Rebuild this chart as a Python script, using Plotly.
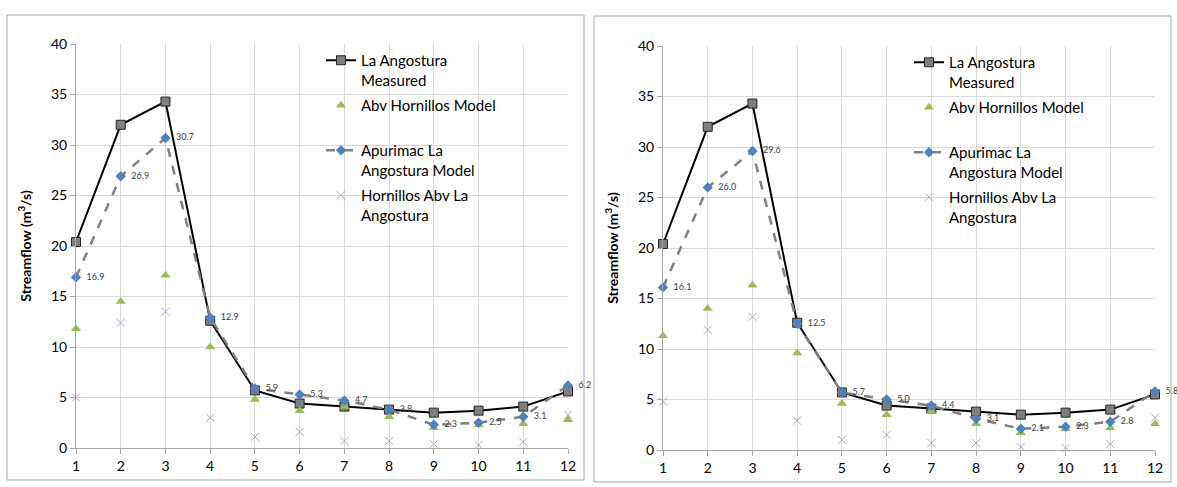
import plotly.graph_objects as go

months = list(range(1, 13))

# Left panel
measured_L = [20.4, 32.0, 34.3, 12.6, 5.7, 4.4, 4.1, 3.8, 3.5, 3.7, 4.1, 5.6]
abv_horn_L = [11.8, 14.5, 17.1, 10.0, 4.8, 3.7, 4.1, 3.1, 2.0, 2.3, 2.4, 2.8]
apurimac_L = [16.9, 26.9, 30.7, 12.9, 5.9, 5.3, 4.7, 3.8, 2.3, 2.5, 3.1, 6.2]
horn_abv_L = [5.0, 12.4, 13.5, 3.0, 1.1, 1.6, 0.7, 0.7, 0.4, 0.3, 0.6, 3.3]

# Right panel
measured_R = [20.4, 32.0, 34.3, 12.6, 5.7, 4.4, 4.1, 3.8, 3.5, 3.7, 4.0, 5.5]
abv_horn_R = [11.3, 14.0, 16.3, 9.6, 4.6, 3.5, 3.8, 2.6, 1.7, 2.1, 2.2, 2.6]
apurimac_R = [16.1, 26.0, 29.6, 12.5, 5.7, 5.0, 4.4, 3.1, 2.1, 2.3, 2.8, 5.8]
horn_abv_R = [4.8, 11.9, 13.2, 2.9, 1.0, 1.5, 0.7, 0.7, 0.3, 0.2, 0.6, 3.2]

names = ["La Angostura<br>Measured", "Abv Hornillos Model<br> ",
         "Apurimac La<br>Angostura Model", "Hornillos Abv La<br>Angostura"]

W, H = 1177, 487
FONT = "Lato"

fig = go.Figure()

def add_panel(xa, ya, leg, meas, abv, apu, horn):
    fig.add_trace(go.Scatter(x=months, y=meas, name=names[0], mode="lines+markers",
                             line=dict(color="black", width=2),
                             marker=dict(symbol="square", size=9, color="#7f7f7f",
                                         line=dict(color="#262626", width=1)),
                             legendgroup=leg + "a",
                             xaxis=xa, yaxis=ya, legend=leg, cliponaxis=False))
    fig.add_trace(go.Scatter(x=months, y=abv, name=names[1], mode="markers",
                             marker=dict(symbol="triangle-up", size=9, color="#9bbb59"),
                             legendgroup=leg + "b",
                             xaxis=xa, yaxis=ya, legend=leg, cliponaxis=False))
    fig.add_trace(go.Scatter(x=months, y=apu, name=names[2], mode="lines+markers+text",
                             line=dict(color="#808080", width=2.5, dash="dash"),
                             marker=dict(symbol="diamond", size=8, color="#4f81bd"),
                             text=[f"  {v:.1f}" for v in apu], textposition="middle right",
                             textfont=dict(size=9, color="#404040", family=FONT),
                             legendgroup=leg + "c",
                             xaxis=xa, yaxis=ya, legend=leg, cliponaxis=False))
    fig.add_trace(go.Scatter(x=months, y=horn, name=names[3], mode="markers",
                             marker=dict(symbol="x-thin", size=8, color="#b3a2c7",
                                         line=dict(color="#b3a2c7", width=1)),
                             legendgroup=leg + "d",
                             xaxis=xa, yaxis=ya, legend=leg, cliponaxis=False))

add_panel("x", "y", "legend", measured_L, abv_horn_L, apurimac_L, horn_abv_L)
add_panel("x2", "y2", "legend2", measured_R, abv_horn_R, apurimac_R, horn_abv_R)

def px_x(p):
    return p / W

def px_y(p):
    return 1 - p / H

xcommon = dict(range=[1, 12], dtick=1, tick0=1, showgrid=True, gridcolor="#d9d9d9",
               showline=True, linecolor="#a6a6a6", ticks="outside", ticklen=5,
               tickcolor="#a6a6a6", tickfont=dict(size=14, family=FONT, color="black"),
               zeroline=False, fixedrange=True, automargin=False)
ycommon = dict(range=[0, 40], dtick=5, showgrid=True, gridcolor="#d9d9d9",
               showline=True, linecolor="#a6a6a6", ticks="outside", ticklen=5,
               tickcolor="#a6a6a6", tickfont=dict(size=14, family=FONT, color="black"),
               zeroline=False, fixedrange=True, automargin=False,
               title=dict(text="<b>Streamflow (m<sup>3</sup>/s)</b>",
                          font=dict(size=14, family=FONT, color="black"), standoff=16))

fig.update_layout(
    width=W, height=H, margin=dict(l=0, r=0, t=0, b=0, pad=0, autoexpand=False),
    paper_bgcolor="white", plot_bgcolor="white",
    font=dict(family=FONT, size=14, color="black"),
    xaxis=dict(domain=[px_x(76), px_x(568)], anchor="y", **xcommon),
    yaxis=dict(domain=[px_y(448), px_y(44)], anchor="x", **ycommon),
    xaxis2=dict(domain=[px_x(663), px_x(1155)], anchor="y2", **xcommon),
    yaxis2=dict(domain=[px_y(450), px_y(46)], anchor="x2", **ycommon),
    legend=dict(x=px_x(321), y=px_y(44), xanchor="left", yanchor="top",
                bgcolor="rgba(0,0,0,0)", font=dict(size=15, family=FONT),
                valign="top", tracegroupgap=3, traceorder="grouped"),
    legend2=dict(x=px_x(909), y=px_y(46), xanchor="left", yanchor="top",
                 bgcolor="rgba(0,0,0,0)", font=dict(size=15, family=FONT),
                 valign="top", tracegroupgap=3, traceorder="grouped"),
    shapes=[
        dict(type="rect", xref="paper", yref="paper", x0=px_x(7), x1=px_x(584),
             y0=px_y(480), y1=px_y(15), line=dict(color="#a6a6a6", width=1)),
        dict(type="rect", xref="paper", yref="paper", x0=px_x(594), x1=px_x(1171),
             y0=px_y(482), y1=px_y(16), line=dict(color="#a6a6a6", width=1)),
    ],
)

fig.write_html("out.html")
